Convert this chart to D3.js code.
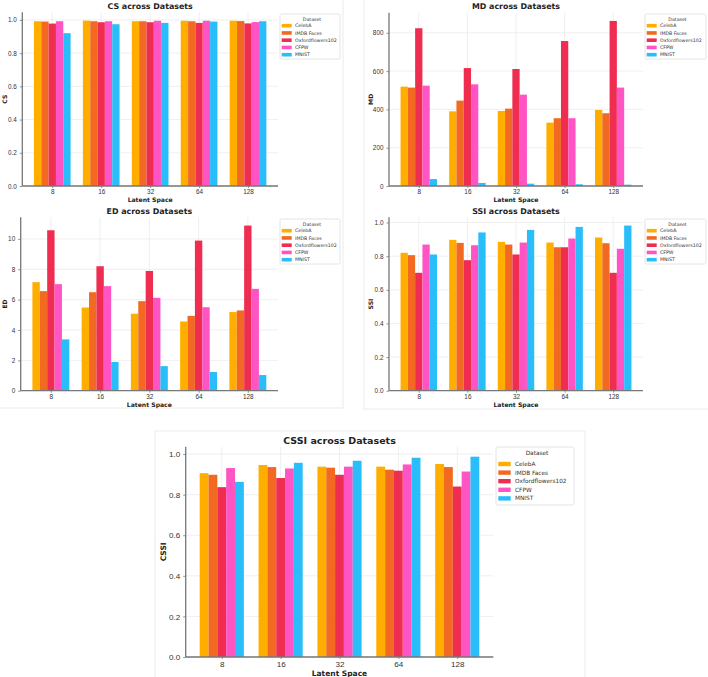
<!DOCTYPE html>
<html>
<head>
<meta charset="utf-8">
<script src="https://cdn.jsdelivr.net/npm/d3@7"></script>
<style>
  body { margin: 0; background: #fff; }
  svg { display: block; font-family: "DejaVu Sans", sans-serif; }
</style>
</head>
<body>
<svg id="chart" width="708" height="677"></svg>
<script>
// latent space sizes (x categories) and dataset series
var latentSpaces = ["8", "16", "32", "64", "128"];
var datasets = ["CelebA", "IMDB Faces", "Oxfordflowers102", "CFPW", "MNIST"];
var datasetColors = ["#FFAE00", "#F26A21", "#EF2D50", "#FF55C4", "#29BDF9"];

// values per metric, one row per dataset, one column per latent space
var csValues = [
    [0.992, 0.996, 0.992, 0.995, 0.995],
    [0.990, 0.992, 0.992, 0.992, 0.993],
    [0.978, 0.986, 0.986, 0.982, 0.979],
    [0.992, 0.992, 0.995, 0.995, 0.987],
    [0.920, 0.974, 0.982, 0.990, 0.992]
];
var mdValues = [
    [519, 390, 392, 331, 397],
    [514, 446, 404, 354, 380],
    [824, 616, 611, 757, 862],
    [524, 531, 477, 354, 514],
    [36, 16, 12, 9, 7]
];
var edValues = [
    [7.15, 5.48, 5.07, 4.56, 5.18],
    [6.56, 6.49, 5.90, 4.93, 5.29],
    [10.57, 8.20, 7.89, 9.89, 10.88],
    [7.02, 6.89, 6.12, 5.50, 6.71],
    [3.38, 1.89, 1.62, 1.23, 1.03]
];
var ssiValues = [
    [0.820, 0.897, 0.885, 0.881, 0.911],
    [0.806, 0.879, 0.869, 0.853, 0.877],
    [0.701, 0.776, 0.810, 0.853, 0.701],
    [0.869, 0.865, 0.881, 0.905, 0.844],
    [0.810, 0.941, 0.956, 0.974, 0.982]
];
var cssiValues = [
    [0.906, 0.946, 0.938, 0.938, 0.951],
    [0.898, 0.936, 0.933, 0.923, 0.936],
    [0.837, 0.882, 0.898, 0.918, 0.840],
    [0.931, 0.929, 0.938, 0.949, 0.914],
    [0.863, 0.957, 0.967, 0.982, 0.987]
];

// y ticks per metric
var unitTicks = [0, 0.2, 0.4, 0.6, 0.8, 1.0];
var mdTicks = [0, 200, 400, 600, 800];
var edTicks = [0, 2, 4, 6, 8, 10];

var svg = d3.select("#chart");

// faint panel frames
var frames = [
    { x: -2, y: -2, w: 345, h: 410 },
    { x: 364, y: -2, w: 350, h: 411 },
    { x: 155, y: 431, w: 430, h: 250 }
];
svg.selectAll("rect.frame").data(frames).enter().append("rect")
    .attr("x", d => d.x).attr("y", d => d.y)
    .attr("width", d => d.w).attr("height", d => d.h)
    .attr("fill", "none").attr("stroke", "#ebebeb").attr("stroke-width", 1);

function drawPanel(p) {
    var g = svg.append("g");
    var barW = 0.15;
    var x = d3.scaleLinear().domain([-0.6125, 4.6125]).range([p.left, p.right]);
    var ymax = d3.max(p.values, d => d3.max(d)) * 1.05;
    var y = d3.scaleLinear().domain([0, ymax]).range([p.bottom, p.top]);

    // grid
    g.selectAll("line.hgrid").data(p.ticks).enter().append("line")
        .attr("x1", p.left).attr("x2", p.right)
        .attr("y1", d => y(d)).attr("y2", d => y(d))
        .attr("stroke", "#ebebeb").attr("stroke-width", 0.8);
    g.selectAll("line.vgrid").data(latentSpaces).enter().append("line")
        .attr("x1", (d, i) => x(i)).attr("x2", (d, i) => x(i))
        .attr("y1", p.top).attr("y2", p.bottom)
        .attr("stroke", "#ebebeb").attr("stroke-width", 0.8);

    // bars
    p.values.forEach(function (row, j) {
        g.selectAll(null).data(row).enter().append("rect")
            .attr("x", (d, i) => x(i + (j - 2) * barW - barW / 2))
            .attr("width", x(barW) - x(0))
            .attr("y", d => y(d))
            .attr("height", d => p.bottom - y(d))
            .attr("fill", datasetColors[j]);
    });

    // axes
    var yAxis = d3.axisLeft(y).tickValues(p.ticks).tickFormat(p.fmt).tickSize(2.5).tickPadding(3);
    var ya = g.append("g").attr("transform", "translate(" + p.left + ",0)").call(yAxis);
    var xAxis = d3.axisBottom(x).tickValues(d3.range(latentSpaces.length))
        .tickFormat(i => latentSpaces[i]).tickSize(2).tickPadding(p.xPad);
    var xa = g.append("g").attr("transform", "translate(0," + p.bottom + ")").call(xAxis);
    [ya, xa].forEach(function (a) {
        a.select(".domain").attr("stroke", "#777").attr("stroke-width", 1.3)
            .attr("d", a === ya ? "M0," + p.top + "V" + p.bottom : "M" + p.left + ",0H" + p.right);
        a.selectAll(".tick line").attr("stroke", "#777").attr("stroke-width", 0.8);
        a.selectAll(".tick text").attr("fill", "#333").style("font-size", p.tickFont + "px");
    });

    // titles and labels
    g.append("text").attr("x", (p.left + p.right) / 2).attr("y", p.titleY)
        .attr("text-anchor", "middle").style("font-weight", "bold")
        .style("font-size", p.titleFont + "px").attr("fill", "#222").text(p.title);
    g.append("text").attr("x", (p.left + p.right) / 2).attr("y", p.xLabelY)
        .attr("text-anchor", "middle").style("font-weight", "bold")
        .style("font-size", p.labelFont + "px").attr("fill", "#222").text("Latent Space");
    g.append("text")
        .attr("transform", "translate(" + p.yLabelX + "," + (p.top + p.bottom) / 2 + ") rotate(-90)")
        .attr("text-anchor", "middle").style("font-weight", "bold")
        .style("font-size", p.labelFont + "px").attr("fill", "#222").text(p.yLabel);

    // legend
    var L = p.legend;
    var lg = g.append("g").attr("transform", "translate(" + L.x + "," + L.y + ")");
    lg.append("rect").attr("width", L.w).attr("height", L.h).attr("rx", 1.5)
        .attr("fill", "#fff").attr("stroke", "#dddddd").attr("stroke-width", 0.8);
    lg.append("text").attr("x", L.w / 2 + 2).attr("y", L.titleY)
        .attr("text-anchor", "middle").style("font-size", L.font + "px").attr("fill", "#333")
        .text("Dataset");
    var items = lg.selectAll("g.item").data(datasets).enter().append("g")
        .attr("transform", (d, i) => "translate(0," + (L.first + i * L.step) + ")");
    items.append("rect").attr("x", L.swX).attr("y", -L.swH / 2)
        .attr("width", L.swW).attr("height", L.swH)
        .attr("fill", (d, i) => datasetColors[i]);
    items.append("text").attr("x", L.textX).attr("dy", "0.35em")
        .style("font-size", L.font + "px").attr("fill", "#333").text(d => d);
}

var smallLegend = { w: 60, h: 45, titleY: 6.5, first: 11.7, step: 7.25, swX: 1.7, swW: 10, swH: 3.6, textX: 15, font: 4.7 };

drawPanel({ values: csValues, ticks: unitTicks, fmt: d3.format(".1f"), title: "CS across Datasets", yLabel: "CS",
    left: 22.3, right: 278, top: 12.3, bottom: 186, titleY: 9, xLabelY: 202, yLabelX: 7,
    tickFont: 6.4, titleFont: 7.9, labelFont: 6.1, xPad: 1.5,
    legend: Object.assign({ x: 280, y: 14 }, smallLegend) });
drawPanel({ values: mdValues, ticks: mdTicks, fmt: d3.format("d"), title: "MD across Datasets", yLabel: "MD",
    left: 389, right: 643, top: 12.7, bottom: 186, titleY: 9, xLabelY: 202, yLabelX: 373,
    tickFont: 6.4, titleFont: 7.9, labelFont: 6.1, xPad: 1.5,
    legend: Object.assign({ x: 645, y: 14 }, smallLegend, { w: 61 }) });
drawPanel({ values: edValues, ticks: edTicks, fmt: d3.format("d"), title: "ED across Datasets", yLabel: "ED",
    left: 20.7, right: 278, top: 217.3, bottom: 390.7, titleY: 214, xLabelY: 406.5, yLabelX: 7,
    tickFont: 6.4, titleFont: 7.9, labelFont: 6.1, xPad: 1.5,
    legend: Object.assign({ x: 280, y: 219 }, smallLegend) });
drawPanel({ values: ssiValues, ticks: unitTicks, fmt: d3.format(".1f"), title: "SSI across Datasets", yLabel: "SSI",
    left: 389, right: 643, top: 217.3, bottom: 390.7, titleY: 214, xLabelY: 406.5, yLabelX: 373,
    tickFont: 6.4, titleFont: 7.9, labelFont: 6.1, xPad: 1.5,
    legend: Object.assign({ x: 645, y: 219 }, smallLegend, { w: 61 }) });
drawPanel({ values: cssiValues, ticks: unitTicks, fmt: d3.format(".1f"), title: "CSSI across Datasets", yLabel: "CSSI",
    left: 185.7, right: 493.3, top: 446.7, bottom: 657, titleY: 444, xLabelY: 675.5, yLabelX: 166,
    tickFont: 8.1, titleFont: 9.5, labelFont: 7.5, xPad: 2,
    legend: { x: 496, y: 447, w: 78, h: 58, titleY: 8, first: 17, step: 8.6, swX: 2.3, swW: 12.4, swH: 4.4, textX: 19, font: 5.8 } });
</script>
</body>
</html>
